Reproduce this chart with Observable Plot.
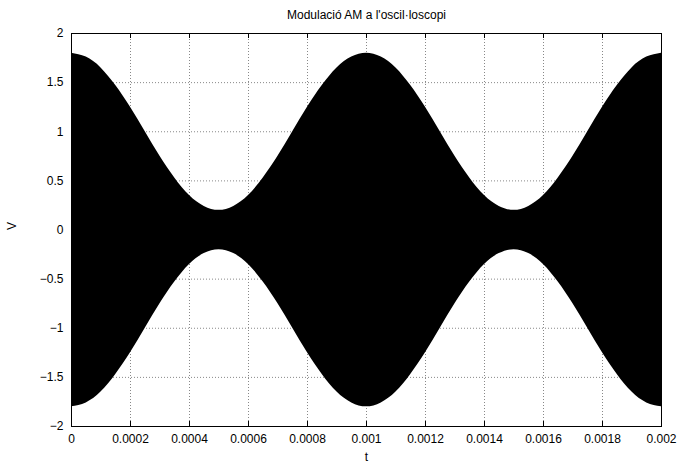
<!DOCTYPE html>
<html>
<head>
<meta charset="utf-8">
<script src="https://cdn.jsdelivr.net/npm/d3@7"></script>
<script src="https://cdn.jsdelivr.net/npm/@observablehq/plot@0.6"></script>
<style>
  body { margin: 0; background: #fff; }
  svg { font-family: "Liberation Sans", Arial, sans-serif; }
</style>
</head>
<body>
<div id="chart"></div>
<script>
// Time samples (s) and envelope amplitude (V)
const times = [0, 0.00005, 0.0001, 0.00015, 0.0002, 0.00025, 0.0003, 0.00035, 0.0004, 0.00045,
  0.0005, 0.00055, 0.0006, 0.00065, 0.0007, 0.00075, 0.0008, 0.00085, 0.0009, 0.00095,
  0.001, 0.00105, 0.0011, 0.00115, 0.0012, 0.00125, 0.0013, 0.00135, 0.0014, 0.00145,
  0.0015, 0.00155, 0.0016, 0.00165, 0.0017, 0.00175, 0.0018, 0.00185, 0.0019, 0.00195, 0.002];
const envelope = [1.80, 1.76, 1.65, 1.47, 1.25, 1.00, 0.75, 0.53, 0.35, 0.24,
  0.20, 0.24, 0.35, 0.53, 0.75, 1.00, 1.25, 1.47, 1.65, 1.76,
  1.80, 1.76, 1.65, 1.47, 1.25, 1.00, 0.75, 0.53, 0.35, 0.24,
  0.20, 0.24, 0.35, 0.53, 0.75, 1.00, 1.25, 1.47, 1.65, 1.76, 1.80];
const xTicks = [0, 0.0002, 0.0004, 0.0006, 0.0008, 0.001, 0.0012, 0.0014, 0.0016, 0.0018, 0.002];
const yTicks = [-2, -1.5, -1, -0.5, 0, 0.5, 1, 1.5, 2];
const title = "Modulació AM a l'oscil·loscopi";
const xLabel = "t";
const yLabel = "V";

const data = times.map((t, i) => ({t, hi: envelope[i], lo: -envelope[i]}));
const W = 679, H = 466, mt = 33, mb = 40, ml = 71, mr = 18;
const fh = H - mt - mb, fw = W - ml - mr;
const fmt = d => String(d).replace("-", "\u2212");
const FS = 12;

const chart = Plot.plot({
  width: W, height: H,
  marginTop: mt, marginBottom: mb, marginLeft: ml, marginRight: mr,
  style: {fontSize: FS + "px", fontFamily: "'Liberation Sans', Arial, sans-serif", color: "#000", background: "#fff"},
  x: {domain: [0, 0.002]},
  y: {domain: [-2, 2]},
  marks: [
    Plot.gridX(xTicks, {stroke: "#888", strokeOpacity: 1, strokeDasharray: "1,2"}),
    Plot.gridY(yTicks, {stroke: "#888", strokeOpacity: 1, strokeDasharray: "1,2"}),
    Plot.areaY(data, {x: "t", y1: "lo", y2: "hi", fill: "#000", curve: "natural"}),
    Plot.ruleX(xTicks, {x: d => d, insetTop: fh - 5, stroke: "#000"}),
    Plot.ruleX(xTicks, {x: d => d, insetBottom: fh - 5, stroke: "#000"}),
    Plot.ruleY(yTicks, {y: d => d, insetRight: fw - 5, stroke: "#000"}),
    Plot.ruleY(yTicks, {y: d => d, insetLeft: fw - 5, stroke: "#000"}),
    Plot.frame({stroke: "#000"}),
    Plot.axisX(xTicks, {tickSize: 0, tickPadding: 8, tickFormat: fmt, label: null}),
    Plot.axisY(yTicks, {tickSize: 0, tickPadding: 8, tickFormat: fmt, label: null}),
    Plot.text([title], {frameAnchor: "top", dy: -23, fontSize: FS, fill: "#000"}),
    Plot.text([xLabel], {frameAnchor: "bottom", dy: 34, fontSize: FS, fill: "#000"}),
    Plot.text([yLabel], {frameAnchor: "left", dx: -59, rotate: -90, fontSize: FS, fill: "#000"})
  ]
});
document.getElementById("chart").appendChild(chart);
</script>
</body>
</html>
